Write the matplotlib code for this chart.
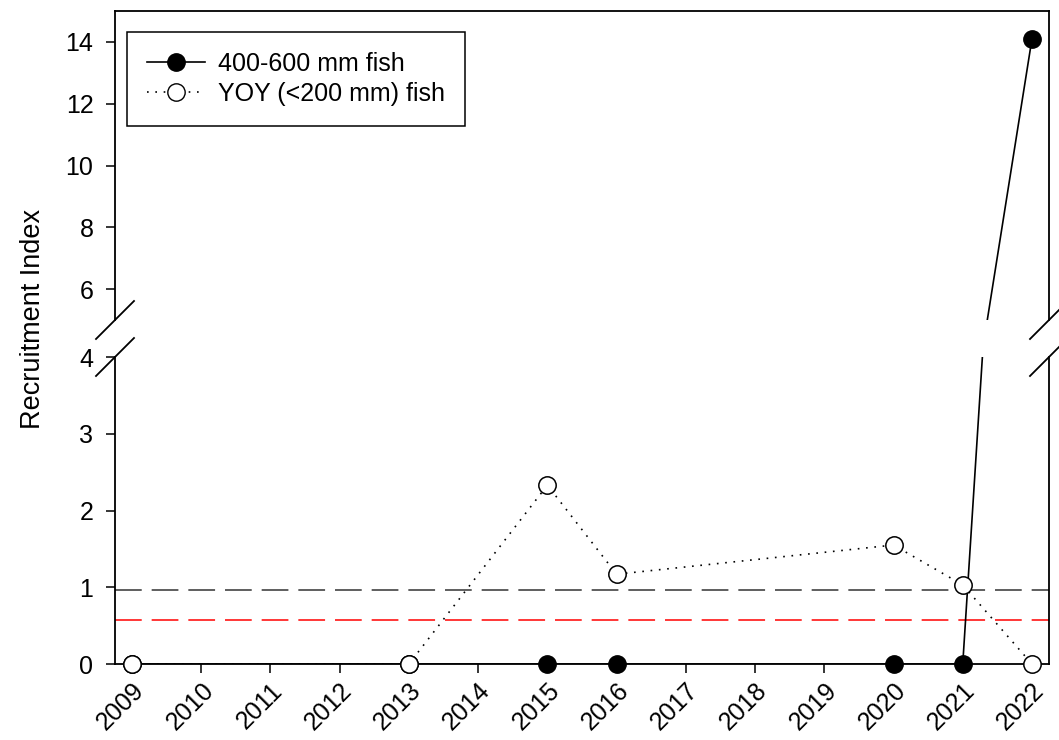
import numpy as np
import matplotlib
matplotlib.use("Agg")
import matplotlib.pyplot as plt
from matplotlib.lines import Line2D

plt.rcParams["font.family"] = ["Liberation Sans", "DejaVu Sans"]
plt.rcParams["font.size"] = 18

# data
years = np.arange(2009, 2023)
adult_years = np.array([2009, 2013, 2015, 2016, 2020, 2021, 2022])
adult_index = np.array([0.0, 0.0, 0.0, 0.0, 0.0, 0.0, 14.1])
yoy_years = np.array([2009, 2013, 2015, 2016, 2020, 2021, 2022])
yoy_index = np.array([0.0, 0.0, 2.33, 1.17, 1.55, 1.03, 0.0])
ref_black = 0.97
ref_red = 0.57

LOW_LIM = (0, 4)
HIGH_LIM = (5, 15)
low_ticks = [0, 1, 2, 3, 4]
high_ticks = [6, 8, 10, 12, 14]

W, H = 1059, 740
fig = plt.figure(figsize=(W / 100, H / 100), dpi=100)
fig.patch.set_facecolor("white")

left, right = 115, 1049
hi_top, hi_bot = 11, 320
lo_top, lo_bot = 357, 664
ax_hi = fig.add_axes([left / W, (H - hi_bot) / H, (right - left) / W, (hi_bot - hi_top) / H])
ax_lo = fig.add_axes([left / W, (H - lo_bot) / H, (right - left) / W, (lo_bot - lo_top) / H])

MS = 12.5
DOT = (1, 4)
DASH = (17.5, 6.5)
for ax, lim in [(ax_hi, HIGH_LIM), (ax_lo, LOW_LIM)]:
    ax.set_xlim(2008.754, 2022.246)
    ax.set_ylim(*lim)
    ax.plot(adult_years, adult_index, "-", color="black", lw=1.2, zorder=3)
    ax.plot(yoy_years, yoy_index, color="black", lw=1.2, dashes=DOT, zorder=4)
    m = (adult_index >= lim[0]) & (adult_index <= lim[1])
    ax.plot(adult_years[m], adult_index[m], "o", ms=MS, mfc="black", mec="black",
            mew=1.0, clip_on=False, zorder=5)
    m = (yoy_index >= lim[0]) & (yoy_index <= lim[1])
    ax.plot(yoy_years[m], yoy_index[m], "o", ms=MS, mfc="white", mec="black",
            mew=1.1, clip_on=False, zorder=6)
    ax.tick_params(direction="out", length=6.5, width=1.1, labelsize=18)
    ax.tick_params(axis="y", right=False, pad=9)
    ax.tick_params(axis="x", pad=4)
    for s in ax.spines.values():
        s.set_linewidth(1.3)

ax_lo.axhline(ref_black, color="#333333", lw=1.1, dashes=DASH, zorder=2)
ax_lo.axhline(ref_red, color="red", lw=1.1, dashes=DASH, zorder=2)

ax_hi.spines["bottom"].set_visible(False)
ax_hi.set_xticks([])
ax_hi.set_yticks(high_ticks)
ax_lo.spines["top"].set_visible(False)
ax_lo.set_yticks(low_ticks)
ax_lo.set_xticks(years)
ax_lo.set_xticklabels([str(y) for y in years], rotation=45, ha="right",
                      rotation_mode="anchor")

# break marks, centred on the spine ends (pixel coordinates)
def brk(x, y):
    fig.add_artist(Line2D([(x - 19) / W, (x + 19) / W],
                          [(H - (y + 19)) / H, (H - (y - 19)) / H],
                          transform=fig.transFigure, color="black", lw=1.3))

for x in (left, right):
    brk(x, hi_bot)
    brk(x, lo_top)

fig.text(33 / W, 1 - 319 / H, "Recruitment Index", rotation=90, ha="center",
         va="center", fontsize=19.5)

handles = [
    Line2D([], [], color="black", lw=1.2, marker="o", ms=MS, mfc="black", mec="black"),
    Line2D([], [], color="black", lw=1.2, dashes=DOT, marker="o", ms=MS,
           mfc="white", mec="black"),
]
leg = ax_hi.legend(handles, ["400-600 mm fish", "YOY (<200 mm) fish"],
                   loc="upper left",
                   bbox_to_anchor=(12 / (right - left), 1 - 21 / (hi_bot - hi_top)),
                   fancybox=False, framealpha=1, edgecolor="black", fontsize=18,
                   handlelength=2.3, handletextpad=0.55, borderpad=0.8,
                   labelspacing=0.22, borderaxespad=0)
leg.get_frame().set_linewidth(1.1)

fig.savefig("out.png", dpi=100)
